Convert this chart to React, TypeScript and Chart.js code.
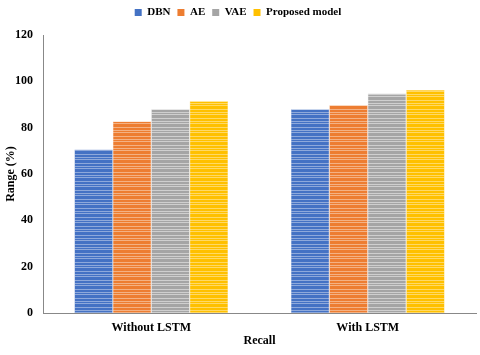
import React, { useEffect, useRef } from "react";
import { Chart, registerables } from "chart.js";

Chart.register(...registerables);

const categories = ["Without LSTM", "With LSTM"];
const seriesNames = ["DBN", "AE", "VAE", "Proposed model"];
const dbn = [70.6, 88];
const ae = [82.7, 89.7];
const vae = [88, 94.8];
const proposed = [91.4, 96.3];
const colors = ["#4472C4", "#ED7D31", "#A5A5A5", "#FFC000"];
const lights = ["#8EA9DB", "#F4B183", "#CFCFCF", "#FFD966"];
const yTicks = [0, 20, 40, 60, 80, 100, 120];

function makePattern(base: string, light: string): CanvasPattern | string {
  const c = document.createElement("canvas");
  c.width = 4;
  c.height = 9;
  const ctx = c.getContext("2d");
  if (!ctx) return base;
  const rows = [base, light, base, base, light, base, light, base, base];
  rows.forEach((col, i) => {
    ctx.fillStyle = col;
    ctx.fillRect(0, i, 4, 1);
  });
  const p = ctx.createPattern(c, "repeat");
  return p || base;
}

const legendMargin = {
  id: "legendMargin",
  beforeInit(chart: any) {
    const legend = chart.legend;
    if (!legend) return;
    const origFit = legend.fit;
    legend.fit = function fit() {
      origFit.bind(legend)();
      this.height += 7;
    };
  },
};

export default function App() {
  const ref = useRef<HTMLCanvasElement>(null);
  useEffect(() => {
    document.body.style.margin = "0";
    if (!ref.current) return;
    const font = "'Liberation Serif', 'Times New Roman', serif";
    const values = [dbn, ae, vae, proposed];
    const chart = new Chart(ref.current, {
      type: "bar",
      data: {
        labels: categories,
        datasets: seriesNames.map((name, i) => ({
          label: name,
          data: values[i],
          backgroundColor: makePattern(colors[i], lights[i]) as any,
          borderColor: lights[i],
          borderWidth: 0.5,
          barPercentage: 1,
          categoryPercentage: 0.71,
        })),
      },
      plugins: [legendMargin],
      options: {
        animation: false,
        responsive: false,
        maintainAspectRatio: false,
        layout: { padding: { left: 0, right: 4, top: 0, bottom: 7 } },
        plugins: {
          legend: {
            position: "top",
            labels: {
              boxWidth: 7,
              boxHeight: 7,
              padding: 7,
              color: "#000",
              font: { family: font, size: 11, weight: "bold" },
              generateLabels: () =>
                seriesNames.map((n, i) => ({
                  text: n,
                  fillStyle: colors[i],
                  strokeStyle: colors[i],
                  lineWidth: 0,
                  datasetIndex: i,
                  hidden: false,
                })),
            },
          },
          tooltip: { enabled: false },
        },
        scales: {
          x: {
            grid: { display: false, drawTicks: false },
            border: { display: true, color: "#888", width: 1 },
            ticks: { color: "#000", font: { family: font, size: 12, weight: "bold" }, padding: 8 },
            title: {
              display: true,
              text: "Recall",
              color: "#000",
              font: { family: font, size: 12, weight: "bold" },
              padding: { top: 1, bottom: 0 },
            },
            afterFit: (s: any) => {
              s.height = 35;
            },
          },
          y: {
            min: 0,
            max: 120,
            afterBuildTicks: (scale: any) => {
              scale.ticks = yTicks.map((v) => ({ value: v }));
            },
            grid: { display: false, drawTicks: false },
            border: { display: true, color: "#888", width: 1 },
            ticks: { color: "#000", font: { family: font, size: 12, weight: "bold" }, padding: 10 },
            title: {
              display: true,
              text: "Range (%)",
              color: "#000",
              font: { family: font, size: 12, weight: "bold" },
              padding: { top: 4, bottom: 0 },
            },
            afterFit: (s: any) => {
              s.width = 43;
            },
          },
        },
      },
    } as any);
    return () => chart.destroy();
  }, []);
  return (
    <div style={{ width: 480, height: 355, background: "#fff" }}>
      <canvas ref={ref} width={480} height={355} />
    </div>
  );
}
